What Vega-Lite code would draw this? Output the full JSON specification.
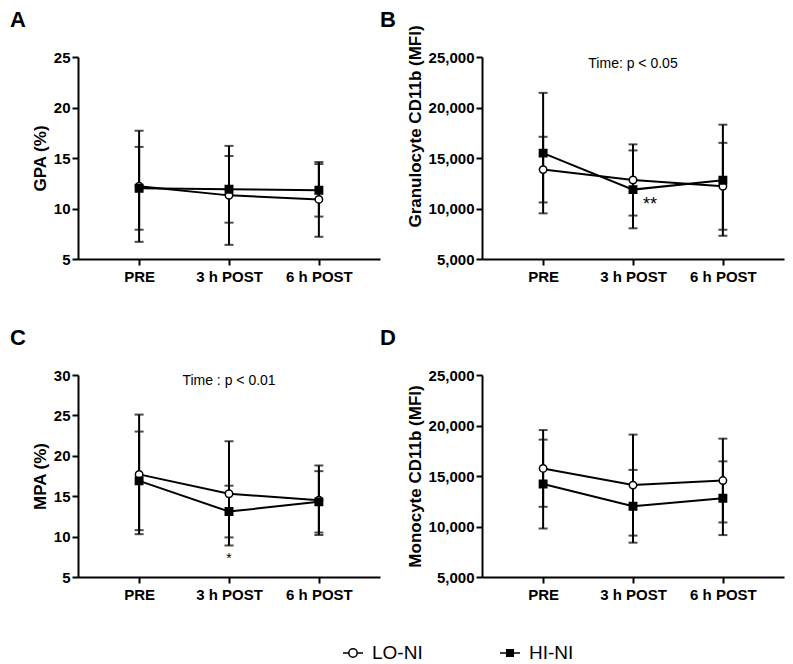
{
  "$schema": "https://vega.github.io/schema/vega-lite/v6.json",
  "padding": {"left": 10, "top": 8, "right": 5, "bottom": 5},
  "datasets": {
    "a": [
      {"time": "PRE", "group": "LO-NI", "mean": 12.2, "lo": 6.7, "hi": 17.7},
      {"time": "3 h POST", "group": "LO-NI", "mean": 11.3, "lo": 6.4, "hi": 16.2},
      {"time": "6 h POST", "group": "LO-NI", "mean": 10.9, "lo": 7.2, "hi": 14.6},
      {"time": "PRE", "group": "HI-NI", "mean": 12.0, "lo": 7.9, "hi": 16.1},
      {"time": "3 h POST", "group": "HI-NI", "mean": 11.9, "lo": 8.6, "hi": 15.2},
      {"time": "6 h POST", "group": "HI-NI", "mean": 11.8, "lo": 9.2, "hi": 14.4}
    ],
    "b": [
      {"time": "PRE", "group": "LO-NI", "mean": 13850, "lo": 10600, "hi": 17100},
      {"time": "3 h POST", "group": "LO-NI", "mean": 12820, "lo": 9300, "hi": 16350},
      {"time": "6 h POST", "group": "LO-NI", "mean": 12200, "lo": 7900, "hi": 16500},
      {"time": "PRE", "group": "HI-NI", "mean": 15480, "lo": 9520, "hi": 21450},
      {"time": "3 h POST", "group": "HI-NI", "mean": 11870, "lo": 8040, "hi": 15750},
      {"time": "6 h POST", "group": "HI-NI", "mean": 12800, "lo": 7300, "hi": 18300}
    ],
    "c": [
      {"time": "PRE", "group": "LO-NI", "mean": 17.7, "lo": 10.3, "hi": 25.1},
      {"time": "3 h POST", "group": "LO-NI", "mean": 15.3, "lo": 8.9, "hi": 21.8},
      {"time": "6 h POST", "group": "LO-NI", "mean": 14.5, "lo": 10.2, "hi": 18.8},
      {"time": "PRE", "group": "HI-NI", "mean": 16.9, "lo": 10.8, "hi": 23.0},
      {"time": "3 h POST", "group": "HI-NI", "mean": 13.1, "lo": 9.9, "hi": 16.3},
      {"time": "6 h POST", "group": "HI-NI", "mean": 14.3, "lo": 10.5, "hi": 18.1}
    ],
    "d": [
      {"time": "PRE", "group": "LO-NI", "mean": 15750, "lo": 11950, "hi": 19550},
      {"time": "3 h POST", "group": "LO-NI", "mean": 14100, "lo": 9100, "hi": 19100},
      {"time": "6 h POST", "group": "LO-NI", "mean": 14550, "lo": 10400, "hi": 18700},
      {"time": "PRE", "group": "HI-NI", "mean": 14200, "lo": 9800, "hi": 18600},
      {"time": "3 h POST", "group": "HI-NI", "mean": 12000, "lo": 8400, "hi": 15600},
      {"time": "6 h POST", "group": "HI-NI", "mean": 12800, "lo": 9150, "hi": 16450}
    ]
  },
  "vconcat": [
    {
      "hconcat": [
        {
          "width": 302, "height": 202,
          "title": {"text": "A", "anchor": "start", "frame": "group", "dx": -68, "offset": 18, "fontSize": 22, "fontWeight": "bold", "font": "Liberation Sans", "color": "black"},
          "data": {"name": "a"},
          "encoding": {"x": {"field": "time", "type": "ordinal", "scale": {"type": "point", "domain": ["PRE", "3 h POST", "6 h POST"], "padding": 0.68}, "axis": {"title": null, "labelAngle": 0, "labelPadding": 4}}},
          "layer": [
            {"mark": {"type": "rule", "strokeWidth": 2, "color": "black"}, "encoding": {"y": {"field": "lo", "type": "quantitative", "title": "GPA (%)", "scale": {"domain": [5, 25], "nice": false, "zero": false}, "axis": {"values": [5, 10, 15, 20, 25]}}, "y2": {"field": "hi"}}},
            {"mark": {"type": "tick", "size": 9, "thickness": 2, "color": "black"}, "encoding": {"y": {"field": "lo", "type": "quantitative", "title": "GPA (%)", "scale": {"domain": [5, 25], "nice": false, "zero": false}}}},
            {"mark": {"type": "tick", "size": 9, "thickness": 2, "color": "black"}, "encoding": {"y": {"field": "hi", "type": "quantitative", "title": "GPA (%)", "scale": {"domain": [5, 25], "nice": false, "zero": false}}}},
            {"mark": {"type": "line", "color": "black", "strokeWidth": 2}, "encoding": {"y": {"field": "mean", "type": "quantitative", "title": "GPA (%)", "scale": {"domain": [5, 25], "nice": false, "zero": false}}, "detail": {"field": "group"}}},
            {"mark": {"type": "point", "filled": true, "stroke": "black", "strokeWidth": 1.5, "size": 55, "opacity": 1},
             "encoding": {
               "y": {"field": "mean", "type": "quantitative", "title": "GPA (%)", "scale": {"domain": [5, 25], "nice": false, "zero": false}},
               "shape": {"condition": {"test": "datum.group === 'LO-NI'", "value": "circle"}, "value": "square"},
               "fill": {"condition": {"test": "datum.group === 'LO-NI'", "value": "white"}, "value": "black"}
             }},
            {"mark": {"type": "point", "filled": false, "strokeWidth": 1.5, "size": 55, "opacity": 0},
             "encoding": {
               "y": {"field": "mean", "type": "quantitative", "title": "GPA (%)", "scale": {"domain": [5, 25], "nice": false, "zero": false}},
               "shape": {"field": "group", "type": "nominal",
                 "scale": {"domain": ["LO-NI", "HI-NI"], "range": ["M-1,0L-0.42,0M0.42,0L1,0M-0.42,0A0.42,0.42,0,1,1,0.42,0A0.42,0.42,0,1,1,-0.42,0Z", "M-1,0L1,0M-0.33,-0.33L0.33,-0.33L0.33,0.33L-0.33,0.33Z"]},
                 "legend": {"title": null, "orient": "none", "legendX": 264, "legendY": 585, "direction": "horizontal", "symbolSize": 400, "symbolStrokeWidth": 1.5, "symbolOpacity": 1, "labelFontSize": 19, "labelFont": "Liberation Sans", "labelColor": "black", "labelOffset": 8, "columnPadding": 74}},
               "fill": {"field": "group", "type": "nominal", "scale": {"domain": ["LO-NI", "HI-NI"], "range": ["white", "black"]},
                 "legend": {"title": null, "orient": "none", "legendX": 264, "legendY": 585, "direction": "horizontal", "symbolSize": 400, "symbolStrokeWidth": 1.5, "symbolOpacity": 1, "labelFontSize": 19, "labelFont": "Liberation Sans", "labelColor": "black", "labelOffset": 8, "columnPadding": 74}},
               "stroke": {"field": "group", "type": "nominal", "scale": {"domain": ["LO-NI", "HI-NI"], "range": ["black", "black"]},
                 "legend": {"title": null, "orient": "none", "legendX": 264, "legendY": 585, "direction": "horizontal", "symbolSize": 400, "symbolStrokeWidth": 1.5, "symbolOpacity": 1, "labelFontSize": 19, "labelFont": "Liberation Sans", "labelColor": "black", "labelOffset": 8, "columnPadding": 74}}
             }}
          ]
        },
        {
          "width": 302, "height": 202,
          "title": {"text": "B", "anchor": "start", "frame": "group", "dx": -102, "offset": 0, "dy": 7, "fontSize": 22, "fontWeight": "bold", "font": "Liberation Sans", "color": "black"},
          "data": {"name": "b"},
          "encoding": {"x": {"field": "time", "type": "ordinal", "scale": {"type": "point", "domain": ["PRE", "3 h POST", "6 h POST"], "padding": 0.68}, "axis": {"title": null, "labelAngle": 0, "labelPadding": 4}}},
          "layer": [
            {"mark": {"type": "rule", "strokeWidth": 2, "color": "black"}, "encoding": {"y": {"field": "lo", "type": "quantitative", "title": "Granulocyte CD11b (MFI)", "scale": {"domain": [5000, 25000], "nice": false, "zero": false}, "axis": {"values": [5000, 10000, 15000, 20000, 25000], "format": ",.0f", "titleY": 69}}, "y2": {"field": "hi"}}},
            {"mark": {"type": "tick", "size": 9, "thickness": 2, "color": "black"}, "encoding": {"y": {"field": "lo", "type": "quantitative", "title": "Granulocyte CD11b (MFI)", "scale": {"domain": [5000, 25000], "nice": false, "zero": false}}}},
            {"mark": {"type": "tick", "size": 9, "thickness": 2, "color": "black"}, "encoding": {"y": {"field": "hi", "type": "quantitative", "title": "Granulocyte CD11b (MFI)", "scale": {"domain": [5000, 25000], "nice": false, "zero": false}}}},
            {"mark": {"type": "line", "color": "black", "strokeWidth": 2}, "encoding": {"y": {"field": "mean", "type": "quantitative", "title": "Granulocyte CD11b (MFI)", "scale": {"domain": [5000, 25000], "nice": false, "zero": false}}, "detail": {"field": "group"}}},
            {"mark": {"type": "point", "filled": true, "stroke": "black", "strokeWidth": 1.5, "size": 55, "opacity": 1},
             "encoding": {
               "y": {"field": "mean", "type": "quantitative", "title": "Granulocyte CD11b (MFI)", "scale": {"domain": [5000, 25000], "nice": false, "zero": false}},
               "shape": {"condition": {"test": "datum.group === 'LO-NI'", "value": "circle"}, "value": "square"},
               "fill": {"condition": {"test": "datum.group === 'LO-NI'", "value": "white"}, "value": "black"}
             }},
            {"data": {"values": [{"time": "3 h POST", "y": 24260, "label": "Time: p < 0.05"}]},
             "mark": {"type": "text", "fontSize": 14, "font": "Liberation Sans", "color": "black", "align": "center", "baseline": "middle"},
             "encoding": {"y": {"field": "y", "type": "quantitative", "title": "Granulocyte CD11b (MFI)", "scale": {"domain": [5000, 25000], "nice": false, "zero": false}}, "text": {"field": "label"}}},
            {"data": {"values": [{"time": "3 h POST", "y": 10300, "label": "**"}]},
             "mark": {"type": "text", "fontSize": 18, "font": "Liberation Sans", "color": "black", "align": "center", "baseline": "middle", "dx": 17},
             "encoding": {"y": {"field": "y", "type": "quantitative", "title": "Granulocyte CD11b (MFI)", "scale": {"domain": [5000, 25000], "nice": false, "zero": false}}, "text": {"field": "label"}}}
          ]
        }
      ],
      "spacing": 0
    },
    {
      "hconcat": [
        {
          "width": 302, "height": 202,
          "title": {"text": "C", "anchor": "start", "frame": "group", "dx": -68, "offset": 18, "fontSize": 22, "fontWeight": "bold", "font": "Liberation Sans", "color": "black"},
          "data": {"name": "c"},
          "encoding": {"x": {"field": "time", "type": "ordinal", "scale": {"type": "point", "domain": ["PRE", "3 h POST", "6 h POST"], "padding": 0.68}, "axis": {"title": null, "labelAngle": 0, "labelPadding": 4}}},
          "layer": [
            {"mark": {"type": "rule", "strokeWidth": 2, "color": "black"}, "encoding": {"y": {"field": "lo", "type": "quantitative", "title": "MPA (%)", "scale": {"domain": [5, 30], "nice": false, "zero": false}, "axis": {"values": [5, 10, 15, 20, 25, 30]}}, "y2": {"field": "hi"}}},
            {"mark": {"type": "tick", "size": 9, "thickness": 2, "color": "black"}, "encoding": {"y": {"field": "lo", "type": "quantitative", "title": "MPA (%)", "scale": {"domain": [5, 30], "nice": false, "zero": false}}}},
            {"mark": {"type": "tick", "size": 9, "thickness": 2, "color": "black"}, "encoding": {"y": {"field": "hi", "type": "quantitative", "title": "MPA (%)", "scale": {"domain": [5, 30], "nice": false, "zero": false}}}},
            {"mark": {"type": "line", "color": "black", "strokeWidth": 2}, "encoding": {"y": {"field": "mean", "type": "quantitative", "title": "MPA (%)", "scale": {"domain": [5, 30], "nice": false, "zero": false}}, "detail": {"field": "group"}}},
            {"mark": {"type": "point", "filled": true, "stroke": "black", "strokeWidth": 1.5, "size": 55, "opacity": 1},
             "encoding": {
               "y": {"field": "mean", "type": "quantitative", "title": "MPA (%)", "scale": {"domain": [5, 30], "nice": false, "zero": false}},
               "shape": {"condition": {"test": "datum.group === 'LO-NI'", "value": "circle"}, "value": "square"},
               "fill": {"condition": {"test": "datum.group === 'LO-NI'", "value": "white"}, "value": "black"}
             }},
            {"data": {"values": [{"time": "3 h POST", "y": 29.25, "label": "Time : p < 0.01"}]},
             "mark": {"type": "text", "fontSize": 14, "font": "Liberation Sans", "color": "black", "align": "center", "baseline": "middle"},
             "encoding": {"y": {"field": "y", "type": "quantitative", "title": "MPA (%)", "scale": {"domain": [5, 30], "nice": false, "zero": false}}, "text": {"field": "label"}}},
            {"data": {"values": [{"time": "3 h POST", "y": 7.2, "label": "*"}]},
             "mark": {"type": "text", "fontSize": 14, "font": "Liberation Sans", "color": "black", "align": "center", "baseline": "middle"},
             "encoding": {"y": {"field": "y", "type": "quantitative", "title": "MPA (%)", "scale": {"domain": [5, 30], "nice": false, "zero": false}}, "text": {"field": "label"}}}
          ]
        },
        {
          "width": 302, "height": 202,
          "title": {"text": "D", "anchor": "start", "frame": "group", "dx": -102, "offset": 18, "fontSize": 22, "fontWeight": "bold", "font": "Liberation Sans", "color": "black"},
          "data": {"name": "d"},
          "encoding": {"x": {"field": "time", "type": "ordinal", "scale": {"type": "point", "domain": ["PRE", "3 h POST", "6 h POST"], "padding": 0.68}, "axis": {"title": null, "labelAngle": 0, "labelPadding": 4}}},
          "layer": [
            {"mark": {"type": "rule", "strokeWidth": 2, "color": "black"}, "encoding": {"y": {"field": "lo", "type": "quantitative", "title": "Monocyte CD11b (MFI)", "scale": {"domain": [5000, 25000], "nice": false, "zero": false}, "axis": {"values": [5000, 10000, 15000, 20000, 25000], "format": ",.0f"}}, "y2": {"field": "hi"}}},
            {"mark": {"type": "tick", "size": 9, "thickness": 2, "color": "black"}, "encoding": {"y": {"field": "lo", "type": "quantitative", "title": "Monocyte CD11b (MFI)", "scale": {"domain": [5000, 25000], "nice": false, "zero": false}}}},
            {"mark": {"type": "tick", "size": 9, "thickness": 2, "color": "black"}, "encoding": {"y": {"field": "hi", "type": "quantitative", "title": "Monocyte CD11b (MFI)", "scale": {"domain": [5000, 25000], "nice": false, "zero": false}}}},
            {"mark": {"type": "line", "color": "black", "strokeWidth": 2}, "encoding": {"y": {"field": "mean", "type": "quantitative", "title": "Monocyte CD11b (MFI)", "scale": {"domain": [5000, 25000], "nice": false, "zero": false}}, "detail": {"field": "group"}}},
            {"mark": {"type": "point", "filled": true, "stroke": "black", "strokeWidth": 1.5, "size": 55, "opacity": 1},
             "encoding": {
               "y": {"field": "mean", "type": "quantitative", "title": "Monocyte CD11b (MFI)", "scale": {"domain": [5000, 25000], "nice": false, "zero": false}},
               "shape": {"condition": {"test": "datum.group === 'LO-NI'", "value": "circle"}, "value": "square"},
               "fill": {"condition": {"test": "datum.group === 'LO-NI'", "value": "white"}, "value": "black"}
             }}
          ]
        }
      ],
      "spacing": 0
    }
  ],
  "spacing": 43,
  "config": {
    "view": {"stroke": null},
    "font": "Liberation Sans",
    "axis": {"domainColor": "black", "domainWidth": 2, "tickColor": "black", "tickWidth": 2, "tickSize": 6, "labelColor": "black", "labelFont": "Liberation Sans", "labelFontSize": 15, "labelFontWeight": "bold", "titleFont": "Liberation Sans", "titleFontSize": 17, "titleFontWeight": "bold", "titleColor": "black", "grid": false, "labelPadding": 2, "titlePadding": 4}
  }
}
